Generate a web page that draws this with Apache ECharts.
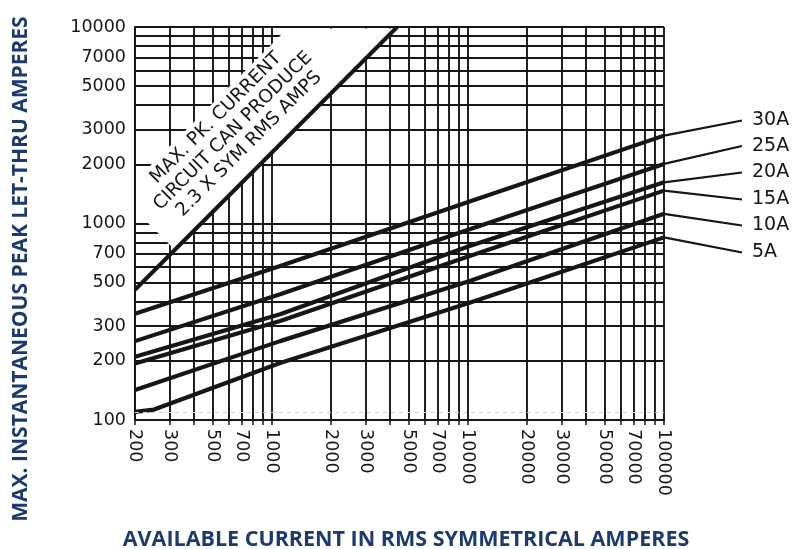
<!DOCTYPE html>
<html>
<head>
<meta charset="utf-8">
<script src="https://cdn.jsdelivr.net/npm/echarts@6/dist/echarts.min.js"></script>
<style>
html,body{margin:0;padding:0;background:#fff;}
#chart{width:798px;height:549px;}
</style>
</head>
<body>
<div id="chart"></div>
<script>
// ---- data ----
const xGridValues = [200,300,400,500,600,700,800,900,1000,2000,3000,4000,5000,6000,7000,8000,9000,10000,20000,30000,40000,50000,60000,70000,80000,90000,100000];
const xLabelValues = [200,300,500,700,1000,2000,3000,5000,7000,10000,20000,30000,50000,70000,100000];
const yGridValues = [100,200,300,400,500,600,700,800,900,1000,2000,3000,4000,5000,6000,7000,8000,9000,10000];
const yLabelValues = [100,200,300,500,700,1000,2000,3000,5000,7000,10000];

const ratingNames = ['30A','25A','20A','15A','10A','5A'];
const curve30A = [[200,347],[1100,608],[10200,1295],[100000,2800]];
const curve25A = [[200,252],[1100,436],[10200,936],[100000,2010]];
const curve20A = [[200,210],[1100,345],[10200,769],[100000,1620]];
const curve15A = [[200,194],[1100,319],[10200,684],[100000,1470]];
const curve10A = [[200,142],[1100,252],[10200,510],[100000,1120]];
const curve5A  = [[200,110],[250,113],[1100,195],[10200,395],[100000,850]];
const maxPeakLine = [[200,460],[4350,10000]];
const maxPeakText = ['MAX. PK. CURRENT','CIRCUIT CAN PRODUCE','2.3 X SYM RMS AMPS'];

// ---- chart ----
const chart = echarts.init(document.getElementById('chart'), null, {renderer:'canvas'});
const numFont = 'DejaVu Sans';
const ink = '#161616';
const curves = [curve30A,curve25A,curve20A,curve15A,curve10A,curve5A];

const series = curves.map((d,i)=>({
  type:'line', name:ratingNames[i], data:d, symbol:'none', z:3,
  lineStyle:{color:ink,width:4.2}
}));
series.push({
  type:'line', name:'max', data:maxPeakLine, symbol:'none', z:3,
  lineStyle:{color:ink,width:4},
  markLine:{
    silent:true, symbol:'none', label:{show:false},
    lineStyle:{color:'#d0d0d0',width:1,type:[4,4]},
    data:[{yAxis:110}]
  }
});

chart.setOption({
  animation:false,
  backgroundColor:'#fff',
  grid:{left:135,right:134,top:27,bottom:129},
  xAxis:{
    type:'log', logBase:10, min:200, max:100000,
    axisLine:{show:true,onZero:false,lineStyle:{color:ink,width:2}},
    axisTick:{show:true,length:5,inside:false,customValues:xGridValues,lineStyle:{color:ink,width:1.5}},
    axisLabel:{customValues:xLabelValues,rotate:-90,margin:9,color:ink,fontFamily:numFont,fontSize:17.5,
      formatter:v=>String(Math.round(v))},
    splitLine:{show:true,lineStyle:{color:ink,width:1.9}},
    minorTick:{show:false}
  },
  yAxis:{
    type:'log', logBase:10, min:100, max:10000,
    axisLine:{show:true,lineStyle:{color:ink,width:2}},
    axisTick:{show:false,customValues:yGridValues},
    axisLabel:{customValues:yLabelValues,margin:9,color:ink,fontFamily:numFont,fontSize:17.5,
      formatter:v=>String(Math.round(v))},
    splitLine:{show:true,lineStyle:{color:ink,width:1.9}}
  },
  series:series
});

// decorations: white band behind the diagonal note, note text, leaders, rating labels, axis titles
const graphics = [];
graphics.push({type:'polygon', z:1, silent:true,
  shape:{points:[[137,179],[287.5,28.5],[396.5,28.5],[175,250],[137,212]]},
  style:{fill:'#fff'}});
const noteCenters = [[216,118],[233,131],[249,144]];
maxPeakText.forEach((t,i)=>{
  graphics.push({type:'text', z:10, x:noteCenters[i][0], y:noteCenters[i][1], rotation:Math.PI/4,
    style:{text:t, fill:ink, font:'18.5px "DejaVu Sans"', align:'center', verticalAlign:'middle'}});
});
const labelY = [120.5,146,172.5,199.5,225.5,252.5];
curves.forEach((d,i)=>{
  const p = chart.convertToPixel({gridIndex:0}, d[d.length-1]);
  graphics.push({type:'line', z:10, shape:{x1:p[0],y1:p[1],x2:742,y2:labelY[i]},
    style:{stroke:ink,lineWidth:2.2}});
  graphics.push({type:'text', z:10, x:752, y:labelY[i],
    style:{text:ratingNames[i], fill:ink, font:'19px "DejaVu Sans"', align:'left', verticalAlign:'middle'}});
});
const titleColor = '#1b3a70';
graphics.push({type:'text', z:10, x:21, y:269, rotation:Math.PI/2,
  style:{text:'MAX. INSTANTANEOUS PEAK LET-THRU AMPERES', fill:titleColor,
    font:'bold 21px "Open Sans"', align:'center', verticalAlign:'middle'}});
graphics.push({type:'text', z:10, x:406, y:540,
  style:{text:'AVAILABLE CURRENT IN RMS SYMMETRICAL AMPERES', fill:titleColor,
    font:'bold 21.5px "Open Sans"', align:'center', verticalAlign:'middle'}});
chart.setOption({graphic:{elements:graphics}});
</script>
</body>
</html>
